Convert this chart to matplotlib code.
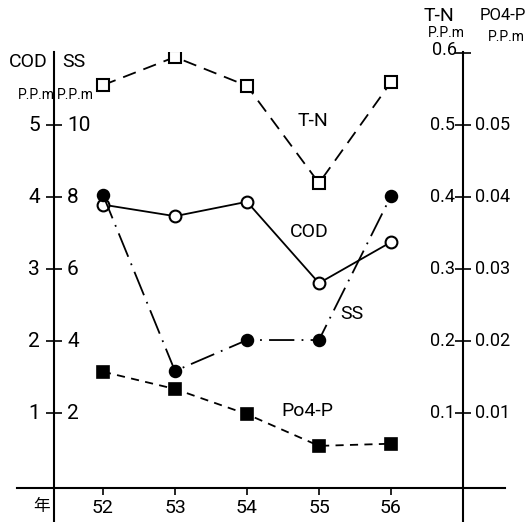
import matplotlib
matplotlib.use("Agg")
import matplotlib.pyplot as plt

# Water quality by year (Showa 52-56)
years = [52, 53, 54, 55, 56]
cod = [3.90, 3.74, 3.94, 2.81, 3.38]          # ppm, left axis
ss = [8.07, 3.18, 4.04, 4.04, 8.04]           # ppm, left inner axis (x2)
tn = [0.556, 0.595, 0.555, 0.420, 0.560]      # ppm, right axis (/10)
po4p = [0.0158, 0.0134, 0.0099, 0.0055, 0.0058]  # ppm, right outer axis (/100)

cod_ticks = [1, 2, 3, 4, 5]
ss_ticks = [2, 4, 6, 8, 10]
tn_ticks = [0.1, 0.2, 0.3, 0.4, 0.5, 0.6]
po4_ticks = [0.01, 0.02, 0.03, 0.04, 0.05]

plt.rcParams["font.family"] = ["Roboto", "Noto Sans CJK JP", "DejaVu Sans"]

W, H = 531, 522
L, R, B, T = 54, 463, 487.5, 52
fig = plt.figure(figsize=(W / 100, H / 100), dpi=100)
ax = fig.add_axes([L / W, (H - B) / H, (R - L) / W, (B - T) / H])
ax.set_xlim(51.32, 57.0)
ax.set_ylim(-0.028, 6.02)
for s in ax.spines.values():
    s.set_visible(False)

lw = 1.3
k = "black"
aw, ah = R - L, B - T

# frame lines running past the plotting area
ax.plot([0, 0], [1, -(H - B) / ah], transform=ax.transAxes, clip_on=False, color=k, lw=1.5)
ax.plot([1, 1], [1, -(H - B) / ah], transform=ax.transAxes, clip_on=False, color=k, lw=1.5)
ax.plot([(17 - L) / aw, (505 - L) / aw], [0, 0], transform=ax.transAxes,
        clip_on=False, color=k, lw=1.5)

# series, all drawn on the COD scale
ax.plot(years, [v * 10 for v in tn], color=k, lw=lw, ls=(0, (7.5, 4.5)),
        marker="s", ms=8.5, mfc="white", mec=k, mew=1.5, zorder=3)
ax.plot(years, cod, color=k, lw=lw, ls="-",
        marker="o", ms=8.5, mfc="white", mec=k, mew=1.5, zorder=3)
ax.plot(years, [v / 2 for v in ss], color=k, lw=lw, ls=(0, (14, 4, 1, 4)),
        marker="o", ms=8.5, mfc=k, mec=k, mew=1.2, zorder=3)
ax.plot(years, [v * 100 for v in po4p], color=k, lw=lw, ls=(0, (4.5, 3.5)),
        marker="s", ms=8.5, mfc=k, mec=k, mew=1.2, zorder=3)

# ticks
ax.set_xticks(years)
ax.set_xticklabels([str(y) for y in years], fontsize=14)
ax.tick_params(axis="x", direction="out", length=5, width=1.2, pad=3)
ax.set_yticks(cod_ticks)
ax.set_yticklabels([""] * len(cod_ticks))
ax.tick_params(axis="y", direction="inout", length=12, width=1.2)

ax2 = ax.twinx()
ax2.set_ylim(ax.get_ylim()[0] / 10, ax.get_ylim()[1] / 10)
for s in ax2.spines.values():
    s.set_visible(False)
ax2.set_yticks(tn_ticks)
ax2.set_yticklabels([""] * len(tn_ticks))
ax2.tick_params(axis="y", direction="inout", length=12, width=1.2)

for v in cod_ticks:
    ax.annotate(str(v), xy=(0, v), xycoords=("axes fraction", "data"),
                xytext=(-14, 0), textcoords="offset pixels",
                ha="right", va="center", fontsize=15)
for v in ss_ticks:
    ax.annotate(str(v), xy=(0, v / 2), xycoords=("axes fraction", "data"),
                xytext=(13, 0), textcoords="offset pixels",
                ha="left", va="center", fontsize=15)
for v in tn_ticks:
    top = v > 0.55
    ax.annotate(f"{v:.1f}", xy=(1, v * 10), xycoords=("axes fraction", "data"),
                xytext=(-6 if top else -8, 3 if top else 0),
                textcoords="offset pixels",
                ha="right", va="center", fontsize=13)
for v in po4_ticks:
    ax.annotate(f"{v:.2f}", xy=(1, v * 100), xycoords=("axes fraction", "data"),
                xytext=(12, 0), textcoords="offset pixels",
                ha="left", va="center", fontsize=13)

# axis headers
fig.text(28 / W, 1 - 62 / H, "COD", ha="center", va="center", fontsize=14)
fig.text(74 / W, 1 - 62 / H, "SS", ha="center", va="center", fontsize=14)
fig.text(36 / W, 1 - 95 / H, "P.P.m", ha="center", va="center", fontsize=10)
fig.text(75 / W, 1 - 95 / H, "P.P.m", ha="center", va="center", fontsize=10)
fig.text(439 / W, 1 - 16 / H, "T-N", ha="center", va="center", fontsize=14)
fig.text(503 / W, 1 - 16 / H, "PO4-P", ha="center", va="center", fontsize=12)
fig.text(446 / W, 1 - 33 / H, "P.P.m", ha="center", va="center", fontsize=10)
fig.text(506 / W, 1 - 37 / H, "P.P.m", ha="center", va="center", fontsize=10)
fig.text(42 / W, 1 - 506 / H, "年", ha="center", va="center", fontsize=12)

# series labels
ax.text(54.91, 5.06, "T-N", ha="center", va="center", fontsize=14)
ax.text(54.87, 3.52, "COD", ha="center", va="center", fontsize=14)
ax.text(55.46, 2.38, "SS", ha="center", va="center", fontsize=14)
ax.text(54.84, 1.03, "Po4-P", ha="center", va="center", fontsize=14)

fig.savefig("out.png", dpi=100, facecolor="white")
